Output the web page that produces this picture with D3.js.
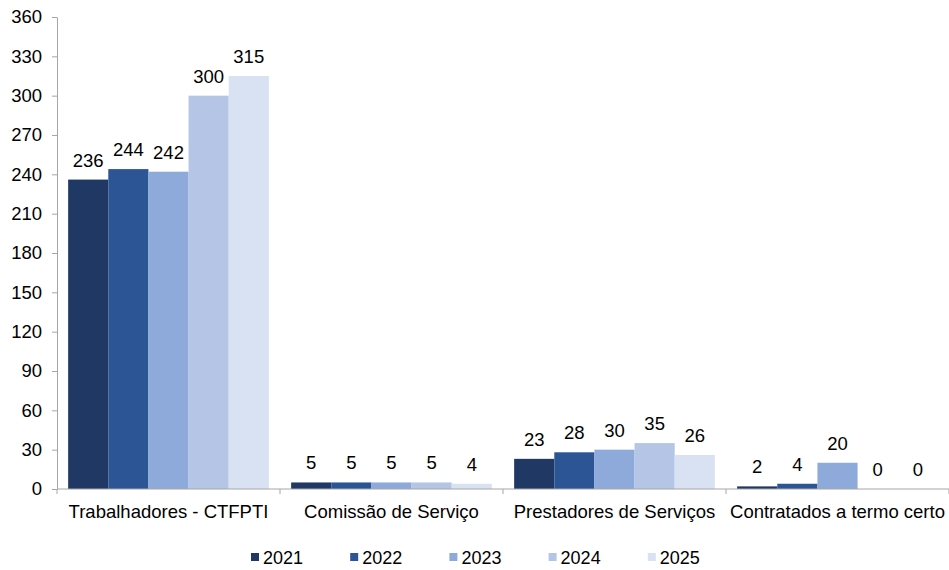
<!DOCTYPE html>
<html>
<head>
<meta charset="utf-8">
<script src="https://cdn.jsdelivr.net/npm/d3@7"></script>
<style>
  body { margin: 0; background: #fff; }
  text { font-family: "Liberation Sans", Arial, sans-serif; fill: #000; }
  .axis path, .axis line { stroke: #a6a6a6; }
</style>
</head>
<body>
<svg id="chart"></svg>
<script>
var width = 949;
var height = 570;

var categories = ["Trabalhadores - CTFPTI", "Comissão de Serviço", "Prestadores de Serviços", "Contratados a termo certo"];
var years = ["2021", "2022", "2023", "2024", "2025"];
var values = {
  "2021": [236, 5, 23, 2],
  "2022": [244, 5, 28, 4],
  "2023": [242, 5, 30, 20],
  "2024": [300, 5, 35, 0],
  "2025": [315, 4, 26, 0]
};
var yTicks = [0, 30, 60, 90, 120, 150, 180, 210, 240, 270, 300, 330, 360];
var colors = ["#203864", "#2c5596", "#8eaadb", "#b4c5e5", "#d9e2f3"];

var margin = {left: 57, right: 0, top: 17, bottom: 81};

var svg = d3.select('#chart')
  .attr('width', width)
  .attr('height', height);

var xScale = d3.scaleBand()
  .domain(categories)
  .range([margin.left, width - margin.right])
  .paddingInner(0.1)
  .paddingOuter(0.05);

var yScale = d3.scaleLinear()
  .domain([0, 360])
  .range([height - margin.bottom, margin.top]);

var xSub = d3.scaleBand()
  .domain(years)
  .range([0, xScale.bandwidth()]);

// bars
years.forEach(function(yr, j){
  var g = svg.append('g');
  g.selectAll('rect')
    .data(categories)
    .enter()
    .append('rect')
      .attr('x', d => xScale(d) + xSub(yr))
      .attr('y', (d, i) => yScale(values[yr][i]))
      .attr('width', xSub.bandwidth())
      .attr('height', (d, i) => yScale(0) - yScale(values[yr][i]))
      .attr('fill', colors[j]);

  g.selectAll('text')
    .data(categories)
    .enter()
    .append('text')
      .attr('x', d => xScale(d) + xSub(yr) + xSub.bandwidth() / 2)
      .attr('y', (d, i) => yScale(values[yr][i]) - 13)
      .attr('text-anchor', 'middle')
      .style('font-size', '18.5px')
      .text((d, i) => values[yr][i]);
});

// y axis
var yAxis = svg.append('g')
  .classed('axis', true)
  .attr('transform', `translate(${margin.left}, 0)`)
  .call(d3.axisLeft(yScale)
    .tickValues(yTicks)
    .tickSize(5)
    .tickSizeOuter(0)
    .tickPadding(10));
yAxis.selectAll('text').style('font-size', '18.5px');

// x axis with ticks at category boundaries
var step = xScale.step();
var boundaries = categories.map((c, i) => margin.left + i * step).concat([width - margin.right]);
var xAxis = svg.append('g')
  .classed('axis', true)
  .attr('transform', `translate(0, ${yScale(0)})`);
xAxis.append('line')
  .attr('x1', margin.left)
  .attr('x2', width - margin.right)
  .attr('stroke', '#a6a6a6');
xAxis.selectAll('line.tk')
  .data(boundaries)
  .enter()
  .append('line')
    .classed('tk', true)
    .attr('x1', d => d)
    .attr('x2', d => d)
    .attr('y1', 0)
    .attr('y2', 5)
    .attr('stroke', '#a6a6a6');
xAxis.selectAll('text')
  .data(categories)
  .enter()
  .append('text')
    .attr('x', d => xScale(d) + xScale.bandwidth() / 2)
    .attr('y', 29)
    .attr('text-anchor', 'middle')
    .style('font-size', '18.5px')
    .text(d => d);

// legend
var legend = svg.append('g')
  .attr('transform', 'translate(251, 557)');
var item = legend.selectAll('g')
  .data(years)
  .enter()
  .append('g')
    .attr('transform', (d, i) => `translate(${i * 99.2}, 0)`);
item.append('rect')
  .attr('x', 0)
  .attr('y', -4)
  .attr('width', 8)
  .attr('height', 8)
  .attr('fill', (d, i) => colors[i]);
item.append('text')
  .attr('x', 12)
  .attr('y', 6.5)
  .style('font-size', '18px')
  .text(d => d);
</script>
</body>
</html>
